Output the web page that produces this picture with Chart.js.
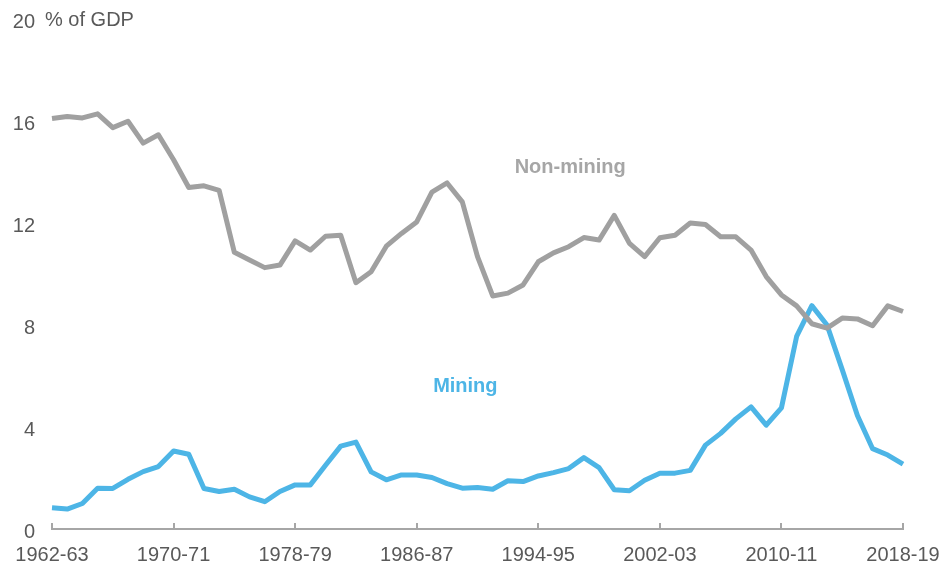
<!DOCTYPE html>
<html>
<head>
<meta charset="utf-8">
<script src="https://cdn.jsdelivr.net/npm/chart.js@4.4.1/dist/chart.umd.min.js"></script>
<style>
  html, body { margin: 0; padding: 0; background: #ffffff; }
  #wrap { width: 943px; height: 566px; position: relative; }
</style>
</head>
<body>
<div id="wrap"><canvas id="chart"></canvas></div>
<script>
// Financial years, 1962-63 to 2018-19
const years = [
  "1962-63", "1963-64", "1964-65", "1965-66", "1966-67", "1967-68", "1968-69", "1969-70",
  "1970-71", "1971-72", "1972-73", "1973-74", "1974-75", "1975-76", "1976-77", "1977-78",
  "1978-79", "1979-80", "1980-81", "1981-82", "1982-83", "1983-84", "1984-85", "1985-86",
  "1986-87", "1987-88", "1988-89", "1989-90", "1990-91", "1991-92", "1992-93", "1993-94",
  "1994-95", "1995-96", "1996-97", "1997-98", "1998-99", "1999-00", "2000-01", "2001-02",
  "2002-03", "2003-04", "2004-05", "2005-06", "2006-07", "2007-08", "2008-09", "2009-10",
  "2010-11", "2011-12", "2012-13", "2013-14", "2014-15", "2015-16", "2016-17", "2017-18",
  "2018-19"
];

// Investment, % of GDP
const nonMining = [
  16.1, 16.18, 16.12, 16.28, 15.74, 15.99, 15.13, 15.46, 14.48, 13.39,
  13.46, 13.28, 10.85, 10.55, 10.25, 10.35, 11.3, 10.94, 11.48, 11.52,
  9.66, 10.09, 11.09, 11.59, 12.04, 13.21, 13.57, 12.83, 10.68, 9.14,
  9.25, 9.57, 10.48, 10.83, 11.07, 11.43, 11.33, 12.3, 11.2, 10.68,
  11.42, 11.52, 12.0, 11.94, 11.46, 11.46, 10.94, 9.9, 9.18, 8.75,
  8.05, 7.88, 8.27, 8.24, 7.97, 8.75, 8.53
];
const mining = [
  0.83, 0.78, 1.0, 1.6, 1.59, 1.95, 2.25, 2.45, 3.06, 2.93,
  1.59, 1.47, 1.56, 1.26, 1.07, 1.47, 1.73, 1.73, 2.5, 3.25,
  3.41, 2.24, 1.93, 2.12, 2.12, 2.02, 1.78, 1.6, 1.63, 1.56,
  1.89, 1.86, 2.08, 2.21, 2.37, 2.8, 2.41, 1.54, 1.5, 1.91,
  2.19, 2.19, 2.3, 3.29, 3.75, 4.32, 4.79, 4.07, 4.75, 7.55,
  8.76, 8.0, 6.25, 4.45, 3.15, 2.9, 2.54
];

const xTickLabels = ["1962-63", "1970-71", "1978-79", "1986-87", "1994-95", "2002-03", "2010-11", "2018-19"];
const yTicks = [0, 4, 8, 12, 16, 20];

const GREY = "#a0a0a0";
const BLUE = "#4db5e6";
const AXIS = "#a6a6a6";
const TEXT = "#595959";
const FONT = "'Liberation Sans', Arial, sans-serif";

// series names sit next to their lines, positioned in data units
const seriesLabels = [
  { text: "Non-mining", x: 34.1, y: 14.16, color: "#a6a6a6" },
  { text: "Mining", x: 27.2, y: 5.6, color: BLUE },
];

const annotations = {
  id: "annotations",
  afterDraw(chart) {
    const { ctx, chartArea, scales } = chart;
    ctx.save();

    // small upward tick marks on the category axis
    ctx.strokeStyle = AXIS;
    ctx.lineWidth = 2;
    xTickLabels.forEach((label) => {
      const px = Math.round(scales.x.getPixelForValue(years.indexOf(label)));
      ctx.beginPath();
      ctx.moveTo(px, chartArea.bottom - 6);
      ctx.lineTo(px, chartArea.bottom);
      ctx.stroke();
    });

    // unit label beside the top tick
    ctx.fillStyle = TEXT;
    ctx.font = `20px ${FONT}`;
    ctx.textAlign = "left";
    ctx.textBaseline = "middle";
    ctx.fillText("% of GDP", chartArea.left - 7, scales.y.getPixelForValue(20) + 1);

    ctx.font = `bold 20px ${FONT}`;
    ctx.textAlign = "center";
    seriesLabels.forEach((l) => {
      ctx.fillStyle = l.color;
      ctx.fillText(l.text, scales.x.getPixelForValue(l.x), scales.y.getPixelForValue(l.y));
    });
    ctx.restore();
  },
};

new Chart(document.getElementById("chart"), {
  type: "line",
  data: {
    labels: years,
    datasets: [
      {
        label: "Non-mining",
        data: nonMining,
        borderColor: GREY,
        borderWidth: 5,
        pointRadius: 0,
        tension: 0,
        borderJoinStyle: "round",
      },
      {
        label: "Mining",
        data: mining,
        borderColor: BLUE,
        borderWidth: 5,
        pointRadius: 0,
        tension: 0,
        borderJoinStyle: "round",
      },
    ],
  },
  options: {
    responsive: true,
    maintainAspectRatio: false,
    animation: false,
    layout: { padding: { top: 19, right: 40, left: 0, bottom: 0 } },
    plugins: {
      legend: { display: false },
      tooltip: { enabled: false },
    },
    scales: {
      x: {
        offset: false,
        grid: { display: false, drawTicks: false },
        border: { display: true, color: AXIS, width: 2 },
        afterFit: (scale) => {
          scale.height = 37;
          scale.paddingLeft = 0;
          scale.paddingRight = 0;
        },
        ticks: {
          autoSkip: false,
          maxRotation: 0,
          padding: 14,
          color: TEXT,
          font: { family: FONT, size: 20 },
          callback: (value, index) => (xTickLabels.includes(years[index]) ? years[index] : ""),
        },
      },
      y: {
        min: 0,
        max: 20,
        grid: { display: false, drawTicks: false },
        border: { display: false },
        afterFit: (scale) => {
          scale.width = 52;
          scale.paddingTop = 0;
          scale.paddingBottom = 0;
        },
        afterBuildTicks: (scale) => { scale.ticks = yTicks.map((v) => ({ value: v })); },
        ticks: {
          padding: 17,
          labelOffset: 3,
          color: TEXT,
          font: { family: FONT, size: 20 },
        },
      },
    },
  },
  plugins: [annotations],
});
</script>
</body>
</html>
